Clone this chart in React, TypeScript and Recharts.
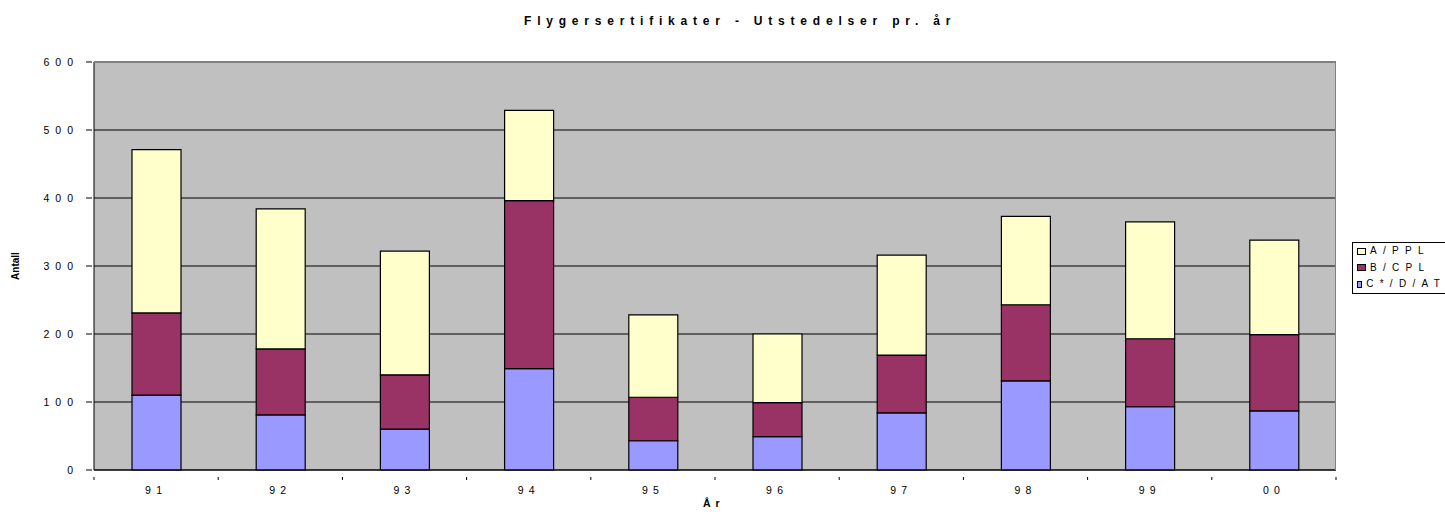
import React from 'react';
import { BarChart, Bar, XAxis, YAxis, CartesianGrid } from 'recharts';

const years = ['91', '92', '93', '94', '95', '96', '97', '98', '99', '00'];
const ppl = [240, 206, 182, 133, 121, 101, 147, 130, 172, 139];
const cpl = [121, 97, 80, 247, 64, 50, 85, 112, 100, 112];
const atpl = [110, 81, 60, 149, 43, 49, 84, 131, 93, 87];
const yTicks = [0, 100, 200, 300, 400, 500, 600];

const seriesList = [
  { key: 'ppl', name: 'A/PPL', color: '#FFFFCC' },
  { key: 'cpl', name: 'B/CPL', color: '#993366' },
  { key: 'atpl', name: 'C*/D/ATPL', color: '#9999FF' },
];

const data = years.map((y, i) => ({ year: y, ppl: ppl[i], cpl: cpl[i], atpl: atpl[i] }));

const W = 1445;
const H = 512;
const PLOT_LEFT = 94;
const PLOT_RIGHT = 1336;
const PLOT_TOP = 62;
const PLOT_BOTTOM = 470;
const FONT = '"Liberation Sans", Arial, sans-serif';
const half = (PLOT_RIGHT - PLOT_LEFT) / years.length / 2;

const YTick = ({ x, y, payload }: any) => (
  <g>
    <line x1={x} x2={x + 6} y1={y} y2={y} stroke="#000" />
    <text x={x - 7} y={y + 3.5} textAnchor="end" fontSize={10.5} letterSpacing={6} fill="#000" fontFamily={FONT}>
      {payload.value}
    </text>
  </g>
);

const XTick = ({ x, y, payload, index }: any) => (
  <g>
    {index === 0 && <line x1={x - half} x2={x - half} y1={y - 1} y2={y + 2} stroke="#000" />}
    <line x1={x + half} x2={x + half} y1={y - 1} y2={y + 2} stroke="#000" />
    <text x={x - 11} y={y + 16} textAnchor="start" fontSize={10.5} letterSpacing={5.2} fill="#000" fontFamily={FONT}>
      {payload.value}
    </text>
  </g>
);

const LegendBox = () => (
  <div
    style={{
      position: 'absolute',
      left: 1352,
      top: 242,
      height: 52,
      border: '1px solid #000',
      boxSizing: 'border-box',
      background: '#fff',
      width: 120,
      padding: '0 0 0 4px',
      fontFamily: FONT,
      fontSize: 10,
      letterSpacing: 6.3,
      lineHeight: '16.5px',
      whiteSpace: 'nowrap',
    }}
  >
    {seriesList.map((s) => (
      <div key={s.key} style={{ display: 'flex', alignItems: 'center' }}>
        <span
          style={{
            display: 'inline-block',
            width: 7,
            height: 5,
            border: '1px solid #000',
            background: s.color,
            marginRight: 4,
          }}
        />
        <span>{s.name}</span>
      </div>
    ))}
  </div>
);

export default function App() {
  return (
    <div style={{ position: 'absolute', left: 0, top: 0, width: W, height: H, overflow: 'hidden', background: '#fff' }}>
      <div
        style={{
          position: 'absolute',
          top: 14,
          left: 524,
          whiteSpace: 'nowrap',
          fontFamily: FONT,
          fontWeight: 'bold',
          fontSize: 12,
          letterSpacing: 5.8,
        }}
      >
        Flygersertifikater - Utstedelser pr. år
      </div>
      <BarChart
        width={W}
        height={H}
        data={data}
        margin={{ top: PLOT_TOP, right: W - PLOT_RIGHT, bottom: 0, left: 0 }}
        barSize={49}
      >
        <CartesianGrid vertical={false} stroke="#000" fill="#C0C0C0" fillOpacity={1} />
        <XAxis
          dataKey="year"
          height={H - PLOT_BOTTOM}
          stroke="#000"
          tickLine={false}
          tick={<XTick />}
          interval={0}
          label={(props: any) => {
            const vb = props.viewBox;
            return (
              <text x={vb.x + vb.width / 2 - 12} y={vb.y + 37} textAnchor="start" fontSize={10.5} fontWeight="bold" letterSpacing={5} fontFamily={FONT}>
                År
              </text>
            );
          }}
        />
        <YAxis
          width={PLOT_LEFT}
          domain={[0, 600]}
          ticks={yTicks}
          stroke="#000"
          tickLine={false}
          tick={<YTick />}
          interval={0}
          label={(props: any) => {
            const vb = props.viewBox;
            const cx = 19;
            const cy = vb.y + vb.height / 2;
            return (
              <text x={cx} y={cy} transform={`rotate(-90 ${cx} ${cy})`} textAnchor="middle" fontSize={10} fontWeight="bold" fontFamily={FONT}>
                Antall
              </text>
            );
          }}
        />
        {[...seriesList].reverse().map((s) => (
          <Bar key={s.key} dataKey={s.key} name={s.name} stackId="a" fill={s.color} stroke="#000" strokeWidth={1.2} isAnimationActive={false} />
        ))}
      </BarChart>
      <div
        style={{
          position: 'absolute',
          left: PLOT_LEFT,
          top: PLOT_TOP,
          width: PLOT_RIGHT - PLOT_LEFT,
          height: PLOT_BOTTOM - PLOT_TOP,
          borderTop: '1px solid #808080',
          borderRight: '1px solid #808080',
          boxSizing: 'border-box',
          pointerEvents: 'none',
        }}
      />
      <LegendBox />
    </div>
  );
}
